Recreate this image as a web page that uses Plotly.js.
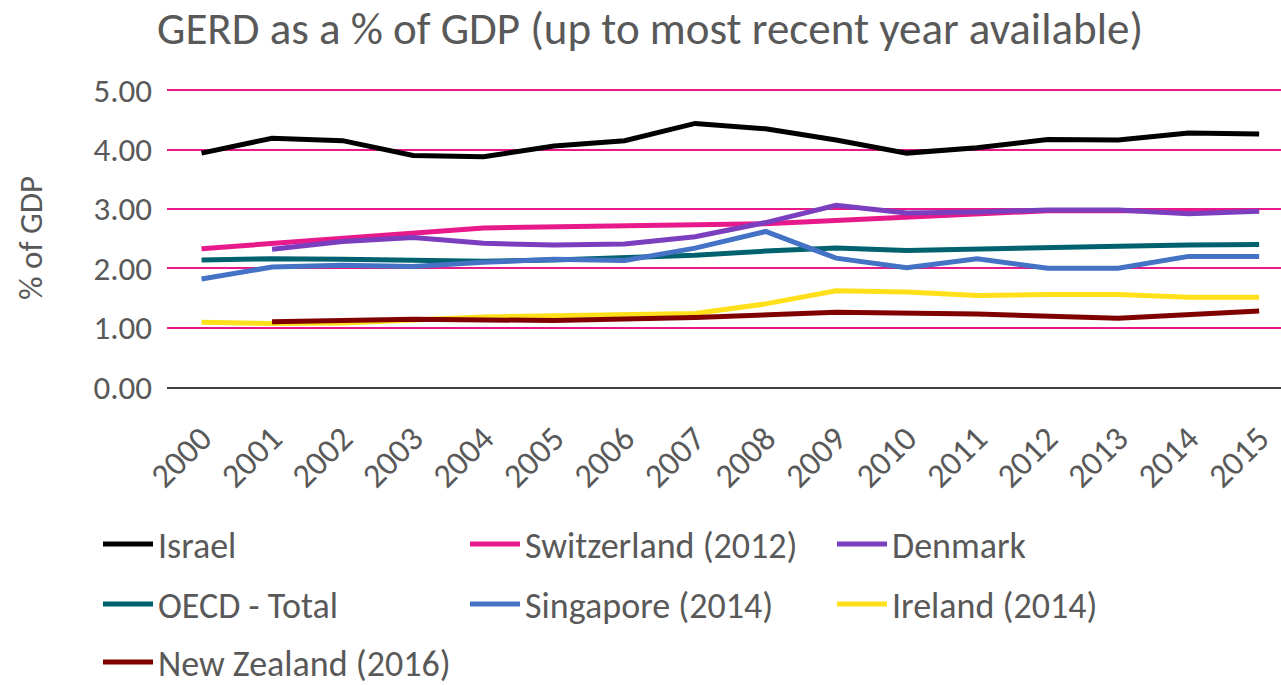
<!DOCTYPE html>
<html>
<head>
<meta charset="utf-8">
<script src="https://cdn.plot.ly/plotly-3.0.1.min.js"></script>
<style>html,body{margin:0;padding:0;background:#fff;}#chart{width:1281px;height:685px;}</style>
</head>
<body>
<div id="chart"></div>
<script>
// ---- data ----
const years = [2000, 2001, 2002, 2003, 2004, 2005, 2006, 2007, 2008, 2009, 2010, 2011, 2012, 2013, 2014, 2015];
const yearLabels = ["2000","2001","2002","2003","2004","2005","2006","2007","2008","2009","2010","2011","2012","2013","2014","2015"];
const israel      = [3.94, 4.19, 4.15, 3.90, 3.88, 4.06, 4.15, 4.44, 4.35, 4.16, 3.94, 4.03, 4.17, 4.16, 4.28, 4.26];
const switzerland = [2.33, null, null, null, 2.68, null, null, null, 2.75, null, null, null, 2.97, 2.97, 2.97, 2.97];
const denmark     = [null, 2.32, 2.45, 2.52, 2.42, 2.39, 2.41, 2.53, 2.77, 3.06, 2.93, 2.95, 2.98, 2.98, 2.92, 2.96];
const oecd        = [2.14, 2.16, 2.15, 2.14, 2.12, 2.14, 2.17, 2.22, 2.29, 2.34, 2.30, 2.33, 2.34, 2.37, 2.39, 2.40];
const singapore   = [1.82, 2.02, 2.05, 2.03, 2.10, 2.15, 2.13, 2.34, 2.62, 2.17, 2.01, 2.16, 2.00, 2.00, 2.20, 2.20];
const ireland     = [1.09, 1.07, 1.08, 1.13, 1.18, 1.20, 1.21, 1.24, 1.40, 1.62, 1.60, 1.54, 1.56, 1.56, 1.51, 1.51];
const newZealand  = [null, 1.10, null, 1.14, null, 1.12, null, 1.17, null, 1.26, null, 1.23, null, 1.16, null, 1.28];
const yTicks = [0, 1, 2, 3, 4, 5];

const seriesNames = ["Israel", "Switzerland (2012)", "Denmark", "OECD - Total", "Singapore (2014)", "Ireland (2014)", "New Zealand (2016)"];
const seriesValues = [israel, switzerland, denmark, oecd, singapore, ireland, newZealand];
const seriesColors = ["#000000", "#E8198B", "#7B3EBF", "#00626E", "#4472C4", "#FFE01A", "#800000"];
const seriesLegend = ["legend", "legend", "legend", "legend2", "legend2", "legend2", "legend3"];

const FONT = "Carlito, Lato, 'Open Sans', sans-serif";
const GREY = "#595959";

const traces = seriesNames.map((n, i) => ({
  type: "scatter",
  mode: "lines",
  name: n,
  x: years,
  y: seriesValues[i],
  connectgaps: true,
  line: { color: seriesColors[i], width: 5 },
  legend: seriesLegend[i],
  hoverinfo: "skip"
}));

function legendAt(yPix) {
  return {
    orientation: "h",
    xref: "container", yref: "container",
    x: 98 / 1281, xanchor: "left",
    y: 1 - yPix / 685, yanchor: "middle",
    entrywidth: 302, entrywidthmode: "pixels",
    itemwidth: 50,
    font: { family: FONT, size: 36, color: GREY },
    bgcolor: "rgba(0,0,0,0)",
    borderwidth: 0,
    traceorder: "normal"
  };
}

const layout = {
  width: 1281, height: 685,
  margin: { l: 167, r: 0, t: 89, b: 298, pad: 0 },
  paper_bgcolor: "#ffffff", plot_bgcolor: "#ffffff",
  font: { family: FONT, color: GREY },
  title: {
    text: "GERD as a % of GDP (up to most recent year available)",
    font: { family: FONT, size: 45, color: GREY },
    xref: "container", x: 157 / 1281, xanchor: "left",
    yref: "container", y: 1 - 28 / 685, yanchor: "middle"
  },
  xaxis: {
    type: "linear",
    range: [1999.51, 2015.31],
    tickmode: "array", tickvals: years, ticktext: yearLabels,
    tickangle: -45,
    tickfont: { family: FONT, size: 34, color: GREY },
    ticks: "", showgrid: false, zeroline: false,
    showline: true, linecolor: "#404040", linewidth: 2,
    ticklabelstandoff: 16,
    fixedrange: true
  },
  yaxis: {
    range: [0, 5.02],
    tickmode: "array", tickvals: yTicks, tickformat: ".2f",
    tickfont: { family: FONT, size: 33, color: GREY },
    ticks: "", showline: false, zeroline: false,
    showgrid: true, gridcolor: "#E8198B", gridwidth: 1.5,
    ticklabelstandoff: 14,
    title: { text: "% of GDP", font: { family: FONT, size: 33, color: GREY }, standoff: 40 },
    fixedrange: true
  },
  showlegend: true,
  legend: legendAt(544),
  legend2: legendAt(604),
  legend3: legendAt(662)
};

Plotly.newPlot("chart", traces, layout, { displayModeBar: false, responsive: false });
</script>
</body>
</html>
